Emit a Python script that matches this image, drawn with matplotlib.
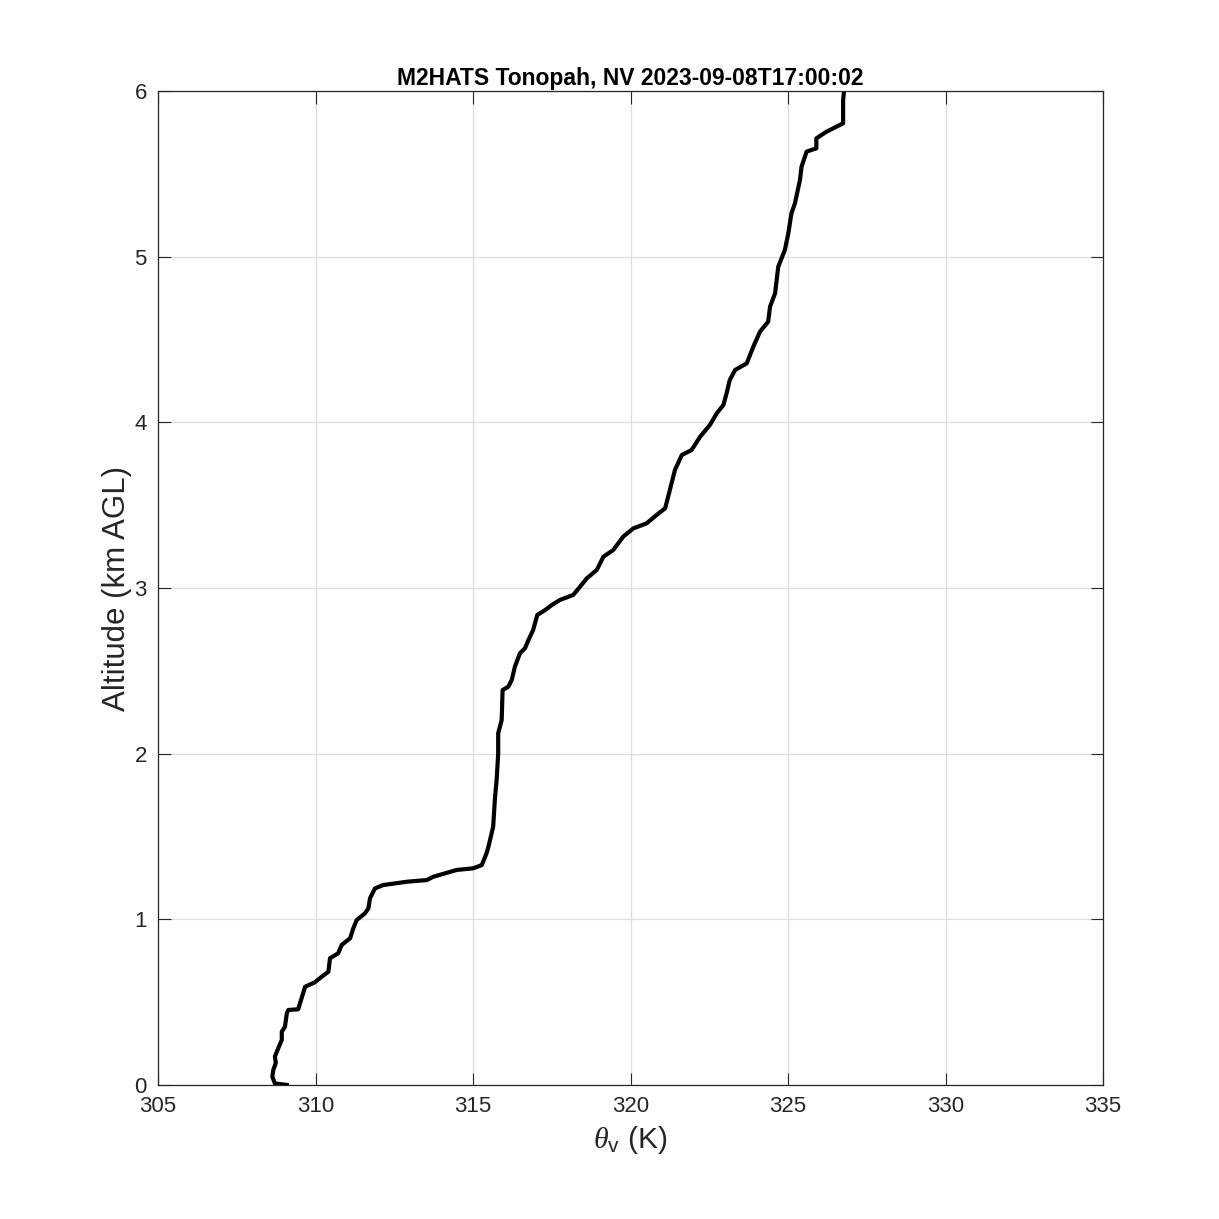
import matplotlib
matplotlib.use("Agg")
import matplotlib.pyplot as plt

plt.rcParams['font.family'] = ['Liberation Sans', 'DejaVu Sans']
plt.rcParams['mathtext.fontset'] = 'custom'
plt.rcParams['mathtext.rm'] = 'Liberation Sans'
plt.rcParams['mathtext.it'] = 'Liberation Serif:italic'

title = "M2HATS Tonopah, NV 2023-09-08T17:00:02"
xlabel = r"$\theta_{\mathrm{v}}$ (K)"
ylabel = "Altitude (km AGL)"
xticks = [305, 310, 315, 320, 325, 330, 335]
yticks = [0, 1, 2, 3, 4, 5, 6]

theta_v = [309.09, 308.71, 308.63, 308.66, 308.74, 308.71, 308.82, 308.93, 308.93,
           309.03, 309.09, 309.14, 309.45, 309.56, 309.67, 309.98, 310.20, 310.41,
           310.46, 310.72, 310.83, 311.10, 311.20, 311.31, 311.57, 311.68, 311.73,
           311.89, 312.15, 312.90, 313.53, 313.74, 314.48, 315.01, 315.28, 315.43,
           315.49, 315.64, 315.70, 315.75, 315.80, 315.80, 315.91, 315.94, 316.12,
           316.23, 316.33, 316.49, 316.65, 316.76, 316.91, 317.04, 317.29, 317.50,
           317.76, 318.18, 318.40, 318.61, 318.93, 319.14, 319.45, 319.77, 320.09,
           320.51, 320.83, 321.10, 321.25, 321.41, 321.63, 321.94, 322.21, 322.52,
           322.74, 322.95, 323.05, 323.15, 323.32, 323.69, 323.90, 324.11, 324.37,
           324.43, 324.59, 324.69, 324.90, 325.01, 325.11, 325.22, 325.38, 325.43,
           325.59, 325.90, 325.90, 326.22, 326.75, 326.75, 326.78]
altitude = [0.000, 0.010, 0.050, 0.091, 0.133, 0.171, 0.223, 0.272, 0.322,
            0.352, 0.433, 0.453, 0.457, 0.525, 0.593, 0.620, 0.654, 0.684,
            0.765, 0.795, 0.845, 0.886, 0.946, 0.996, 1.036, 1.067, 1.127,
            1.187, 1.207, 1.227, 1.237, 1.257, 1.298, 1.308, 1.328, 1.399,
            1.438, 1.559, 1.740, 1.841, 2.002, 2.123, 2.203, 2.384, 2.404,
            2.445, 2.525, 2.606, 2.636, 2.686, 2.747, 2.837, 2.867, 2.897,
            2.928, 2.958, 3.008, 3.058, 3.109, 3.189, 3.229, 3.310, 3.360,
            3.390, 3.441, 3.481, 3.592, 3.712, 3.803, 3.833, 3.913, 3.984,
            4.055, 4.105, 4.175, 4.255, 4.316, 4.356, 4.457, 4.547, 4.607,
            4.698, 4.779, 4.939, 5.040, 5.141, 5.262, 5.322, 5.463, 5.543,
            5.634, 5.654, 5.714, 5.754, 5.805, 5.946, 6.000]

fig = plt.figure(figsize=(12.19, 12.19), dpi=100)
ax = fig.add_axes([158/1219, 1 - 1085/1219, (1103 - 158)/1219, (1085 - 91)/1219])
ax.plot(theta_v, altitude, color='black', lw=3.0, solid_joinstyle='round')
ax.set_xlim(305, 335)
ax.set_ylim(0, 6)
ax.set_xticks(xticks)
ax.set_yticks(yticks)
ax.grid(True, color='#dedede', lw=0.9)
ax.set_axisbelow(True)
ax.tick_params(direction='in', length=9, width=0.8, top=True, right=True,
               labelsize=16, colors='#262626', pad=8)
for s in ax.spines.values():
    s.set_linewidth(0.9)
    s.set_color('#262626')
ax.set_title(title, fontsize=16.5, fontweight='bold', pad=4)
ax.set_xlabel(xlabel, fontsize=21.5, color='#262626')
ax.set_ylabel(ylabel, fontsize=22.5, color='#262626')
ax.yaxis.set_label_coords((132 - 158) / 945, 0.5)
ax.xaxis.set_label_coords(0.5, -(1124 - 1085) / 994)
ax.xaxis.label.set_va('top')
fig.savefig("out.png", dpi=100)
